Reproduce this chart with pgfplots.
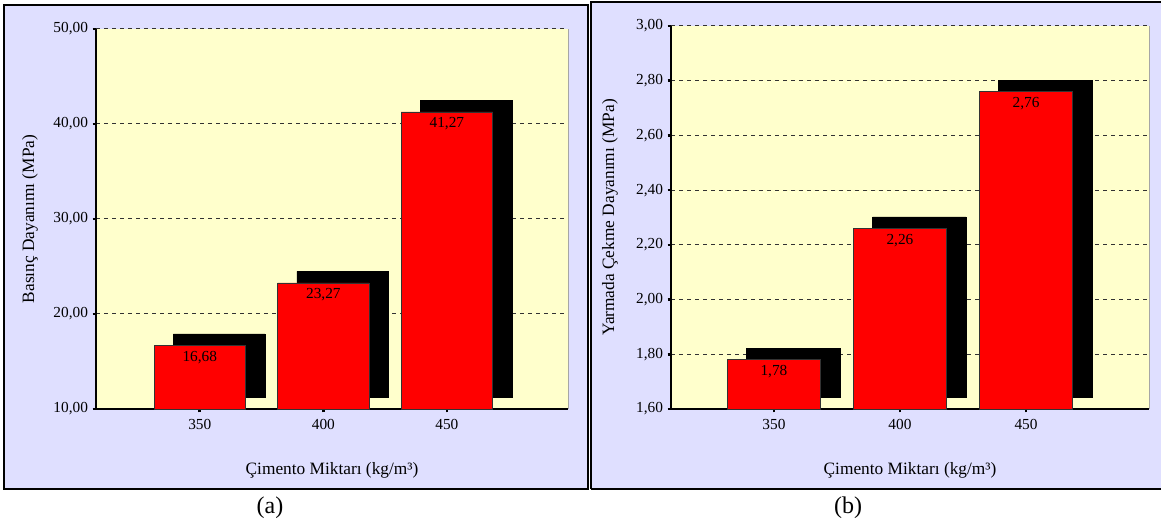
\documentclass[border=0pt]{standalone}
\usepackage{fontspec}
\setmainfont{Liberation Serif}
\usepackage{pgfplots}
\pgfplotsset{compat=1.18}

\definecolor{panelbg}{RGB}{223,223,255}
\definecolor{plotbg}{RGB}{255,255,204}
\definecolor{gridc}{RGB}{50,50,50}
\definecolor{barred}{RGB}{255,0,0}

\pgfplotsset{
  /pgf/number format/.cd, use comma, fixed, fixed zerofill, precision=2, assume math mode=true,
  /pgfplots/.cd,
  strengthaxis/.style={
    scale only axis,
    enlargelimits=false,
    axis lines*=left,
    axis line style={line width=1.4pt, black},
    axis background/.style={fill=plotbg},
    tick align=outside,
    major tick length=2.5pt,
    every tick/.style={black, line width=2pt},
    xtick={0,1,2},
    xticklabels={350,400,450},
    ymajorgrids,
    major grid style={gridc, dash pattern=on 3pt off 3pt, line width=0.75pt},
    tick label style={font=\fontsize{11.5}{13}\selectfont},
    xticklabel style={yshift=-1.5pt},
    xlabel={Çimento Miktarı (kg/m³)},
    every axis x label/.style={at={(axis description cs:0.5,0)}, anchor=center,
      yshift=-45.75pt, font=\fontsize{13}{15}\selectfont},
    clip=false,
  },
  ylabelat/.style={every axis y label/.style={at={(axis description cs:#1,0.5)},
      rotate=90, anchor=center, font=\fontsize{13}{15}\selectfont}},
  shadowbar/.style={ybar, bar shift=0pt, bar width=0.74, fill=black, draw=black,
    xshift=14.5pt, yshift=8.7pt},
  frontbar/.style={ybar, bar shift=0pt, bar width=0.74, fill=barred, draw=black!80, line width=0.6pt,
    nodes near coords,
    every node near coord/.append style={font=\fontsize{11.5}{13}\selectfont, black, anchor=center, yshift=-9pt}},
}

\begin{document}
\begin{tikzpicture}
\useasboundingbox (0,0) rectangle (870.75pt,393pt);

% panel backgrounds and frames
\fill[panelbg] (3pt,26.25pt) rectangle (441pt,389.25pt);
\fill[panelbg] (443.25pt,26.25pt) rectangle (872pt,391.5pt);
\draw[line width=1.8pt] (3pt,26.25pt) rectangle (441pt,389.25pt);
\draw[line width=1.8pt] (443.25pt,26.25pt) -- (443.25pt,391.5pt) -- (872pt,391.5pt);
\draw[line width=1.8pt] (443.25pt,26.25pt) -- (872pt,26.25pt);

% (a) compressive strength
\begin{axis}[strengthaxis,
  at={(72pt,86.25pt)}, anchor=south west,
  width=354pt, height=285pt,
  xmin=-0.84, xmax=2.98,
  ymin=10, ymax=50, ytick={10,20,30,40,50},
  ylabel={Basınç Dayanımı (MPa)},
  ylabelat=-0.1398,
]
\addplot[shadowbar] coordinates {(0,16.68) (1,23.27) (2,41.27)};
\addplot[frontbar] coordinates {(0,16.68) (1,23.27) (2,41.27)};
\draw[gray!70, line width=0.5pt] (rel axis cs:1,0) -- (rel axis cs:1,1);
\end{axis}

% (b) splitting tensile strength
\begin{axis}[strengthaxis,
  at={(503.25pt,86.25pt)}, anchor=south west,
  width=358.5pt, height=287.25pt,
  xmin=-0.817, xmax=2.976,
  ymin=1.6, ymax=3.0, ytick={1.6,1.8,2.0,2.2,2.4,2.6,2.8,3.0},
  ylabel={Yarmada Çekme Dayanımı (MPa)},
  ylabelat=-0.1276,
]
\addplot[shadowbar] coordinates {(0,1.78) (1,2.26) (2,2.76)};
\addplot[frontbar] coordinates {(0,1.78) (1,2.26) (2,2.76)};
\draw[gray!70, line width=0.5pt] (rel axis cs:1,0) -- (rel axis cs:1,1);
\end{axis}

\node[font=\fontsize{18}{20}\selectfont] at (202.5pt,12pt) {(a)};
\node[font=\fontsize{18}{20}\selectfont] at (636pt,12pt) {(b)};
\end{tikzpicture}
\end{document}
